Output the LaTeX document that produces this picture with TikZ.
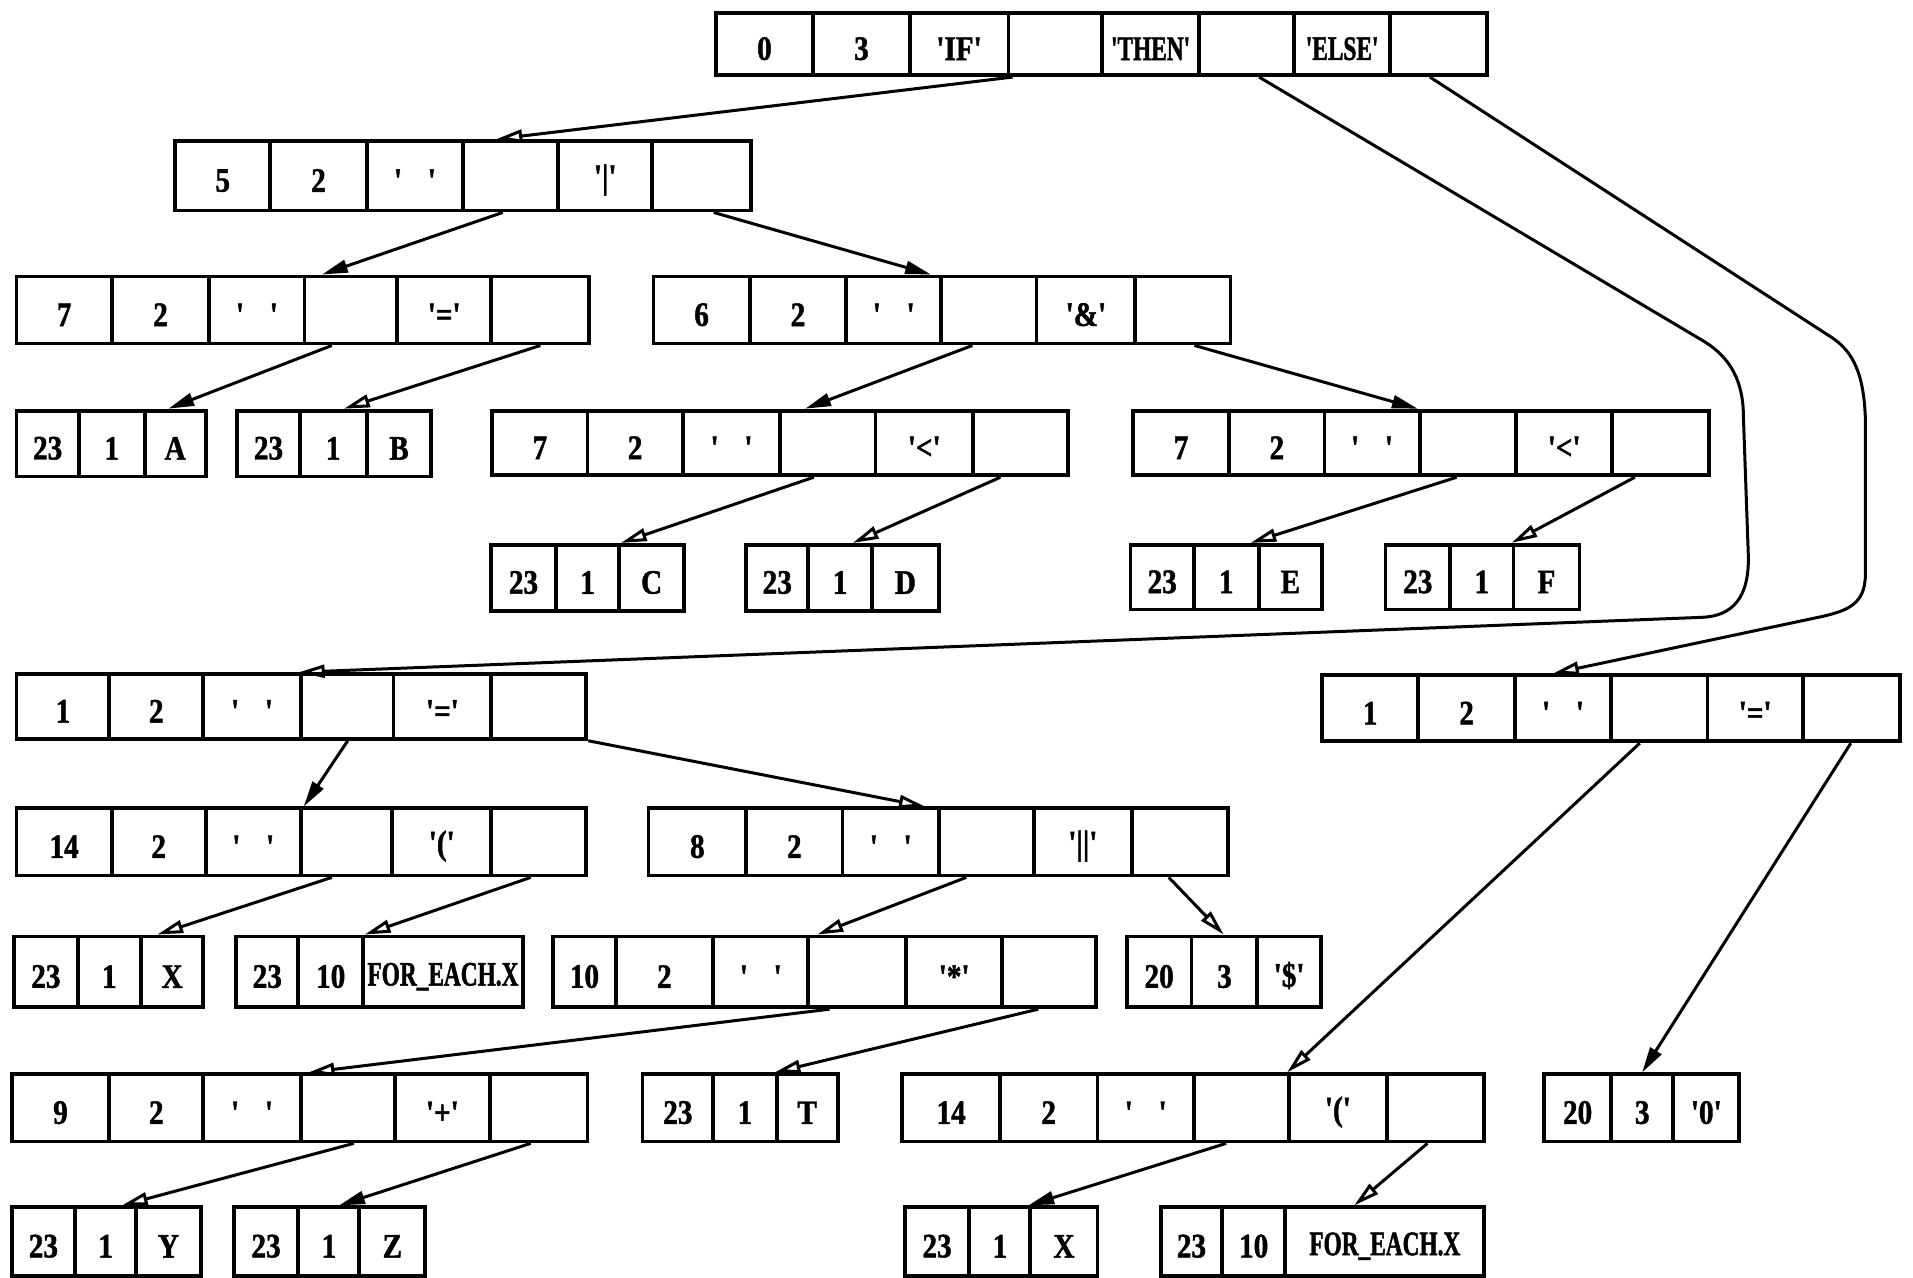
\documentclass[tikz,border=0pt]{standalone}
\usepackage{fontspec}
\usetikzlibrary{arrows.meta,calc}
\newfontfamily\cellfont[FakeStretch=0.85,FakeBold=1.3,Ligatures=TeXOff]{Liberation Serif}
\newfontfamily\narrowfont[FakeStretch=0.68,FakeBold=1.3,Ligatures=TeXOff]{Liberation Serif}
\newcommand\blankq{'\hspace{0.75em}'}
\newcommand\rowbox[4]{%
  \foreach \a/\b/\tx [count=\i] in {#4} {
    \node[cell, anchor=north west, minimum width={(\b-\a)*0.02cm},
      minimum height={(#3-#2)*0.02cm}] (#1-\i) at (\a,#2) {\rule{0pt}{15pt}\tx};
  }%
}
\tikzset{
  cell/.style={draw, line width=1.8pt, inner sep=0pt,
    font=\cellfont\bfseries\fontsize{16}{18}\selectfont},
  conn/.style={line width=1.4pt},
  farr/.style={conn, -{Triangle[length=12pt,width=6pt]}},
  oarr/.style={conn, -{Triangle[open,length=12pt,width=6pt]}}
}
\begin{document}
\begin{tikzpicture}[x=0.02cm, y=-0.02cm]
\useasboundingbox (0,0) rectangle (1568,1047);
% row 0
\rowbox{b0}{9}{60}{585/665/0, 665/744/3, 744/825/'IF', 825/902/{}, 902/981/{\narrowfont 'THEN'}, 981/1059/{}, 1059/1138/{\narrowfont 'ELSE'}, 1138/1217/{}}
% row 1
\rowbox{b1}{114}{171}{142/220/5, 220/299/2, 299/378/\blankq, 378/456/{}, 456/533/'|', 533/614/{}}
% row 2
\rowbox{b2}{225}{280}{12/90/7, 90/170/2, 170/248/\blankq, 248/324/{}, 324/401/'=', 401/481/{}}
\rowbox{b3}{225}{280}{534/613/6, 613/692/2, 692/770/\blankq, 770/848/{}, 848/929/'\&', 929/1007/{}}
% row 3
\rowbox{bA}{335}{389}{12/63/23, 63/117/1, 117/167/A}
\rowbox{bB}{335}{389}{193/244/23, 244/299/1, 299/352/B}
\rowbox{b4}{335}{388}{402/480/7, 480/558/2, 558/638/\blankq, 638/716/{}, 716/796/'<', 796/874/{}}
\rowbox{b5}{335}{388}{927/1006/7, 1006/1084/2, 1084/1162/\blankq, 1162/1241/{}, 1241/1320/'<', 1320/1399/{}}
% row 4
\rowbox{bC}{445}{499}{401/454/23, 454/506/1, 506/559/C}
\rowbox{bD}{445}{499}{610/661/23, 661/713/1, 713/768/D}
\rowbox{bE}{445}{498}{925/977/23, 977/1030/1, 1030/1082/E}
\rowbox{bF}{445}{498}{1134/1187/23, 1187/1239/1, 1239/1293/F}
% row 5
\rowbox{b6}{551}{604}{12/88/1, 88/165/2, 165/245/\blankq, 245/321/{}, 321/401/'=', 401/479/{}}
\rowbox{b7}{552}{606}{1082/1161/1, 1161/1240/2, 1240/1319/\blankq, 1319/1398/{}, 1398/1476/'=', 1476/1556/{}}
% row 6
\rowbox{b8}{661}{716}{12/90/14, 90/167/2, 167/245/\blankq, 245/320/{}, 320/401/'(', 401/479/{}}
\rowbox{b9}{661}{716}{530/610/8, 610/689/2, 689/768/\blankq, 768/846/{}, 846/926/'||', 926/1005/{}}
% row 7
\rowbox{bXa}{766}{824}{10/62/23, 62/114/1, 114/165/X}
\rowbox{bFa}{766}{824}{192/243/23, 243/296/10, 296/427/{\narrowfont FOR\_EACH.X}}
\rowbox{b10}{766}{824}{452/503/10, 503/583/2, 583/661/\blankq, 661/741/{}, 741/820/'*', 820/897/{}}
\rowbox{b11}{766}{824}{922/975/20, 975/1029/3, 1029/1081/'\$'}
% row 8
\rowbox{b12}{879}{934}{8/88/9, 88/165/2, 165/245/\blankq, 245/322/{}, 322/400/'+', 400/480/{}}
\rowbox{bT}{879}{934}{525/583/23, 583/635/1, 635/685/T}
\rowbox{b13}{879}{934}{738/818/14, 818/898/2, 898/977/\blankq, 977/1055/{}, 1055/1135/'(', 1135/1215/{}}
\rowbox{b14}{879}{934}{1264/1319/20, 1319/1370/3, 1370/1424/'0'}
% row 9
\rowbox{bY}{988}{1044}{8/60/23, 60/110/1, 110/163/Y}
\rowbox{bZ}{988}{1044}{190/243/23, 243/293/1, 293/347/Z}
\rowbox{bXb}{988}{1044}{740/793/23, 793/843/1, 843/898/X}
\rowbox{bFb}{988}{1044}{950/1000/23, 1000/1052/10, 1052/1215/{\narrowfont FOR\_EACH.X}}

% connectors
\draw[oarr] ($(b0-4.south west)+(5,0)$) -- ($(b1-4.north west)+(29,0)$);
\draw[oarr] ($(b0-6.south west)+(51,0)$) -- (1397,280)
  .. controls (1418,293) and (1429,312) .. (1429,342) -- (1433,455)
  .. controls (1434,490) and (1420,505) .. (1395,506) -- (b6-4.north west);
\draw[oarr] ($(b0-8.south west)+(34,0)$) -- (1502,277)
  .. controls (1518,288) and (1528,305) .. (1529,345) -- (1529,470)
  .. controls (1529,495) and (1515,500) .. (1495,505) -- ($(b7-3.north west)+(33,0)$);
\draw[farr] ($(b1-4.south west)+(34,0)$) -- ($(b2-4.north west)+(16,0)$);
\draw[farr] ($(b1-6.south west)+(52,0)$) -- ($(b3-4.north west)+(-7,0)$);
\draw[farr] ($(b2-4.south west)+(24,0)$) -- ($(bA-3.north west)+(21,0)$);
\draw[oarr] ($(b2-6.south west)+(42,0)$) -- ($(bB-2.north west)+(38,0)$);
\draw[farr] ($(b3-4.south west)+(27,0)$) -- ($(b4-4.north west)+(22,0)$);
\draw[farr] ($(b3-6.south west)+(50,0)$) -- (b5-4.north west);
\draw[oarr] ($(b4-4.south west)+(29,0)$) -- ($(bC-3.north west)+(3,0)$);
\draw[oarr] ($(b4-6.south west)+(24,0)$) -- ($(bD-2.north west)+(38,0)$);
\draw[oarr] ($(b5-4.south west)+(32,0)$) -- ($(bE-2.north west)+(48,0)$);
\draw[oarr] ($(b5-6.south west)+(20,0)$) -- (bF-3.north west);
\draw[farr] ($(b6-4.south west)+(40,0)$) -- ($(b8-4.north west)+(4,0)$);
\draw[oarr] (b6-6.south east) -- ($(b9-4.north west)+(-10,0)$);
\draw[oarr] ($(b8-4.south west)+(27,0)$) -- ($(bXa-3.north west)+(15,0)$);
\draw[oarr] ($(b8-6.south west)+(34,0)$) -- ($(bFa-3.north west)+(3,0)$);
\draw[oarr] ($(b9-4.south west)+(24,0)$) -- ($(b10-4.north west)+(9,0)$);
\draw[oarr] ($(b9-6.south west)+(32,0)$) -- ($(b11-2.north west)+(28,0)$);
\draw[oarr] ($(b10-4.south west)+(19,0)$) -- ($(b12-4.north west)+(8,0)$);
\draw[oarr] ($(b10-6.south west)+(31,0)$) -- (bT-3.north west);
\draw[oarr] ($(b7-4.south west)+(25,0)$) -- (b13-5.north west);
\draw[farr] ($(b7-6.south west)+(41,0)$) -- ($(b14-2.north west)+(27,0)$);
\draw[oarr] ($(b12-4.south west)+(45,0)$) -- ($(bY-2.north west)+(40,0)$);
\draw[farr] ($(b12-6.south west)+(35,0)$) -- ($(bZ-2.north west)+(35,0)$);
\draw[farr] ($(b13-4.south west)+(28,0)$) -- (bXb-3.north west);
\draw[oarr] ($(b13-6.south west)+(35,0)$) -- ($(bFb-3.north west)+(58,0)$);
\end{tikzpicture}
\end{document}
